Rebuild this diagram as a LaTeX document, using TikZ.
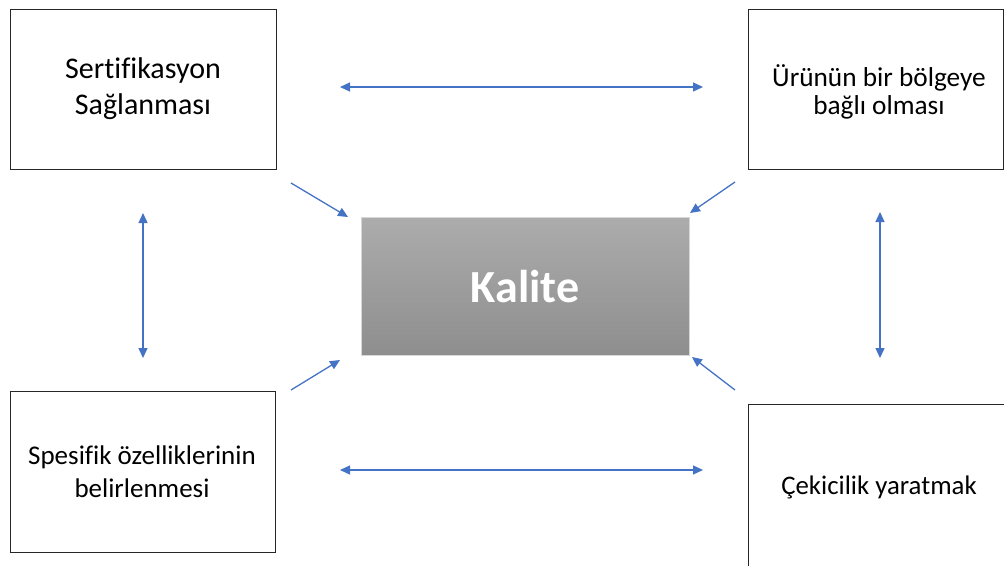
\documentclass[tikz,border=0pt]{standalone}
\usepackage{fontspec}
\setmainfont[Ligatures={NoCommon}]{Carlito}
\usetikzlibrary{arrows.meta}
\definecolor{arr}{HTML}{4472C4}
\tikzset{
  box/.style={draw=black!85, line width=1pt, fill=white, align=center, inner sep=0pt},
  tip/.tip={Triangle[length=10pt,width=9pt]},
  link/.style={draw=arr, line width=1.3pt, -tip},
  dlink/.style={draw=arr, line width=1.3pt, tip-tip},
}
\begin{document}
\begin{tikzpicture}[x=1pt,y=-1pt]
\useasboundingbox (0,0) rectangle (1004,565);
\begin{scope}
\clip (0,0) rectangle (1004,565);
% boxes
\draw[box] (10,9) rectangle (276,169);
\node[font=\fontsize{30}{36}\selectfont, align=center] (tl) at (143,89) {Sertifikasyon\\Sağlanması};
\draw[box] (748,9) rectangle (1003,169);
\node[font=\fontsize{27.3}{28}\selectfont, align=center] (tr) at (879,92) {Ürünün bir bölgeye\\bağlı olması};
\draw[box] (10,391) rectangle (275,552);
\node[font=\fontsize{27}{33}\selectfont, align=center] (bl) at (142,472) {Spesifik özelliklerinin\\belirlenmesi};
\draw[box] (748,404) rectangle (1020,580);
\node[font=\fontsize{26.8}{30}\selectfont] (br) at (879,487) {Çekicilik yaratmak};
% center
\shade[top color={rgb,255:red,172;green,172;blue,172}, bottom color={rgb,255:red,142;green,142;blue,142}] (361,217) rectangle (689,355);
\draw[draw={rgb,255:red,215;green,215;blue,215}, line width=0.8pt] (361,217) rectangle (689,355);
\node[text=white, font=\fontsize{46}{50}\selectfont\bfseries] (c) at (525,287) {Kalite};
% coordinates for arrows
\coordinate (t1) at (340,87); \coordinate (t2) at (703,87);
\coordinate (b1) at (340,470); \coordinate (b2) at (703,470);
\coordinate (l1) at (143,213); \coordinate (l2) at (143,358);
\coordinate (r1) at (880,212); \coordinate (r2) at (880,358);
\coordinate (d1s) at (291,183); \coordinate (d1e) at (348,217);
\coordinate (d2s) at (735,182); \coordinate (d2e) at (690,213);
\coordinate (d3s) at (291,390); \coordinate (d3e) at (340,360);
\coordinate (d4s) at (735,390); \coordinate (d4e) at (692,357);
\draw[dlink] (t1) -- (t2);
\draw[dlink] (b1) -- (b2);
\draw[dlink] (l1) -- (l2);
\draw[dlink] (r1) -- (r2);
\draw[link] (d1s) -- (d1e);
\draw[link] (d2s) -- (d2e);
\draw[link] (d3s) -- (d3e);
\draw[link] (d4s) -- (d4e);
\end{scope}
\end{tikzpicture}
\end{document}
